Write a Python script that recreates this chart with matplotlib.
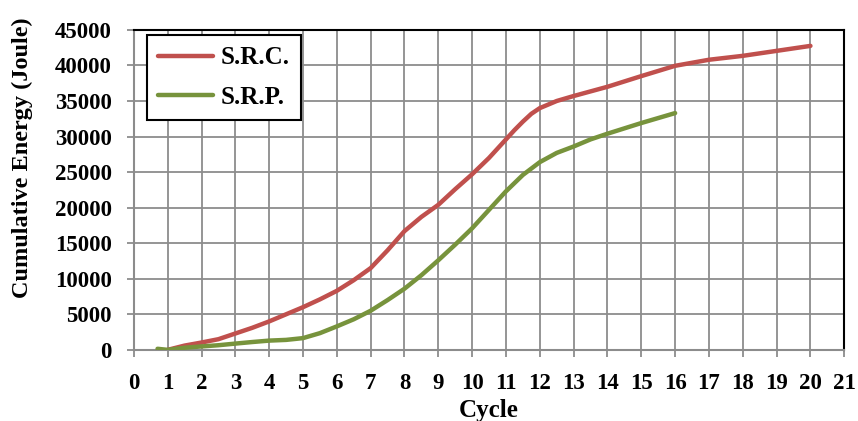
import numpy as np
import matplotlib.pyplot as plt

# cumulative energy per cycle
src_cycle = [1, 1.5, 2, 2.5, 3, 3.5, 4, 4.5, 5, 5.5, 6, 6.5, 7, 7.5, 8, 8.5, 9, 9.5, 10,
             10.5, 11, 11.25, 11.5, 11.75, 12, 12.5, 13, 14, 15, 16, 17, 18, 19, 20]
src_energy = [0, 600, 1030, 1500, 2300, 3100, 4000, 5000, 6000, 7100, 8300, 9800, 11500, 14000,
              16700, 18700, 20400, 22600, 24700, 27000, 29600, 30900, 32100, 33200, 34000,
              35000, 35700, 37000, 38500, 39950, 40800, 41350, 42050, 42750]

srp_cycle = [0.7, 1, 1.5, 2, 2.5, 3, 3.5, 4, 4.5, 5, 5.5, 6, 6.5, 7, 7.5, 8, 8.5, 9, 9.5,
             10, 10.5, 11, 11.5, 12, 12.5, 13, 13.5, 14, 15, 16]
srp_energy = [150, 0, 300, 480, 650, 880, 1100, 1300, 1400, 1650, 2350, 3300, 4300, 5500,
              7000, 8600, 10500, 12600, 14800, 17100, 19700, 22300, 24600, 26400, 27700, 28600,
              29600, 30400, 31900, 33300]

plt.rcParams['font.family'] = 'Liberation Serif'
plt.rcParams['font.weight'] = 'bold'

fig = plt.figure(figsize=(8.58, 4.21), dpi=100)
ax = fig.add_axes([0.156, 0.169, 0.828, 0.76])

ax.plot(src_cycle, src_energy, color='#C0504D', lw=3.2, solid_capstyle='round',
        solid_joinstyle='round', label='S.R.C.', zorder=3)
ax.plot(srp_cycle, srp_energy, color='#77933C', lw=3.2, solid_capstyle='round',
        solid_joinstyle='round', label='S.R.P.', zorder=3)

ax.set_xlim(0, 21)
ax.set_ylim(0, 45000)
ax.set_xticks(np.arange(0, 22, 1))
ax.set_yticks(np.arange(0, 45001, 5000))
ax.grid(True, color='#8C8C8C', lw=1.3)
ax.set_axisbelow(True)

ax.tick_params(axis='both', labelsize=16.5, colors='black', length=5, width=1.3)
ax.tick_params(axis='x', color='#8C8C8C', pad=12)
ax.tick_params(axis='y', color='#8C8C8C', pad=11)
for lab in ax.get_xticklabels() + ax.get_yticklabels():
    lab.set_fontweight('bold')

ax.spines['left'].set_color('#8C8C8C')
ax.spines['bottom'].set_color('#8C8C8C')
ax.spines['left'].set_linewidth(1.5)
ax.spines['bottom'].set_linewidth(1.5)
ax.spines['top'].set_color('black')
ax.spines['right'].set_color('black')
ax.spines['top'].set_linewidth(1.5)
ax.spines['right'].set_linewidth(1.5)

ax.set_xlabel('Cycle', fontsize=18, fontweight='bold')
ax.xaxis.set_label_coords(0.5, -0.155)
ax.set_ylabel('Cumulative Energy (Joule)', fontsize=17.5, fontweight='bold')
ax.yaxis.set_label_coords(-0.142, 0.6)

leg = ax.legend(loc='upper left', bbox_to_anchor=(0.018, 0.984),
                prop={'weight': 'bold', 'size': 18}, frameon=True, fancybox=False,
                framealpha=1, edgecolor='black', handlelength=2.2, borderpad=0.45,
                labelspacing=0.65, handletextpad=0.3, borderaxespad=0)
leg.get_frame().set_linewidth(1.5)

fig.savefig('out.png', dpi=100)
